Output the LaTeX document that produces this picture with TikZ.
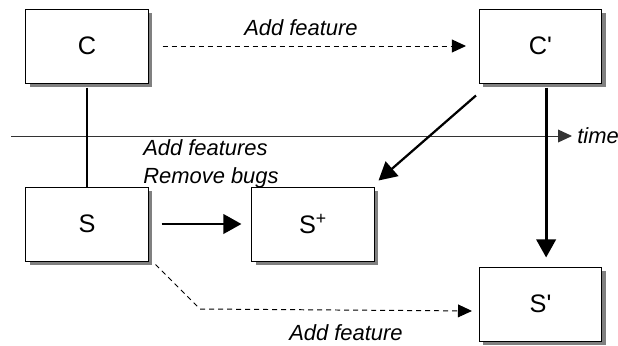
\documentclass[tikz,border=0pt]{standalone}
\usepackage{fontspec}
\setmainfont{Liberation Sans}
\usetikzlibrary{arrows.meta, shadows}

\begin{document}
\begin{tikzpicture}[x=0.025cm, y=0.025cm,
        box/.style={draw, fill=white, line width=0.7pt, minimum width=3.05cm, minimum height=1.85cm,
            font=\fontsize{18}{20}\selectfont,
            drop shadow={shadow xshift=0.1cm, shadow yshift=-0.1cm, fill=gray, opacity=1}},
        lbl/.style={font=\fontsize{15.6}{19.8}\selectfont\itshape},
        strong/.style={line width=2.1pt, -{Triangle[length=0.45cm, width=0.48cm]}},
        feat/.style={line width=0.7pt, dash pattern=on 0.125cm off 0.1cm, -{Triangle[length=0.35cm, width=0.32cm]}}]
        \useasboundingbox (0,0) rectangle (618,345);
        % versions
        \node[box] (C) at (87,299) {C};
        \node[box] (Cp) at (540.5,299) {C\textquotesingle};
        \node[box] (S) at (87,121) {S};
        \node[box] (Sp) at (313,121) {S\textsuperscript{+}};
        \node[box] (Sq) at (540.5,41) {S\textquotesingle};
        % time axis
        \coordinate (t0) at (11,209);
        \coordinate (t1) at (572,209);
        \draw[black!80, line width=0.7pt, -{Triangle[length=0.35cm, width=0.32cm]}] (t0) -- (t1) node[lbl, right, inner sep=0.12cm, black] (time) {time};
        \draw[line width=2.1pt, shorten <=0.1cm] (C.south) -- (S.north);
        \draw[strong, shorten <=0.1cm, shorten >=0.225cm] ([xshift=4]Cp.south) -- ([xshift=4]Sq.north);
        \draw[strong, line width=1.6pt] ([shift={(-3,-12)}]Cp.south west) -- ([shift={(4,6)}]Sp.north east);
        \draw[strong, shorten <=0.325cm, shorten >=0.25cm] (S.east) -- (Sp.west);
        \draw[feat, shorten <=0.35cm, shorten >=0.325cm] (C.east) -- (Cp.west);
        \coordinate (bend) at (200,36);
        \draw[feat, shorten >=0.175cm] ([shift={(7,-3)}]S.south east) -- (bend) -- ([yshift=-5]Sq.west);
        % labels
        \node[lbl] (addtop) at (301,317) {Add feature};
        \node[lbl] (addbot) at (346,12) {Add feature};
        \node[lbl, align=left, anchor=north west, inner sep=0] (fixes) at (143,206) {Add features\\Remove bugs};
\end{tikzpicture}
\end{document}
